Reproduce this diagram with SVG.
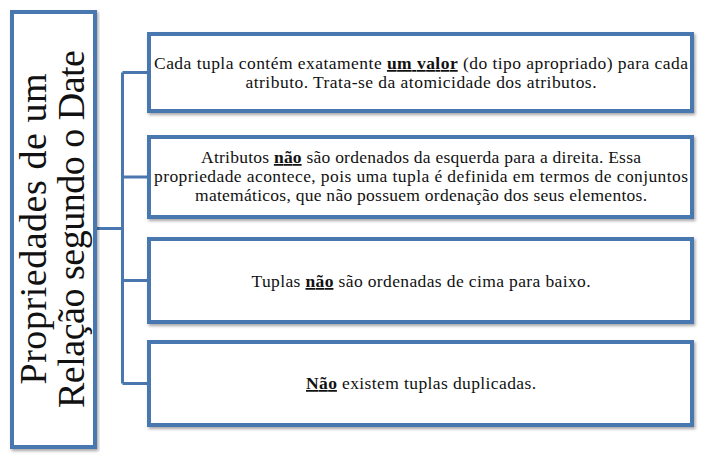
<svg xmlns="http://www.w3.org/2000/svg" width="704" height="461" viewBox="0 0 704 461">
<style>
.box{fill:#ffffff;stroke:#4A77B0;stroke-width:4;filter:url(#sh)}
.conn{fill:none;stroke:#4A77B0;stroke-width:3}
.t{font-family:"Liberation Serif","Times New Roman",serif;font-size:17.5px;fill:#111;text-anchor:middle}
.big{font-family:"Liberation Serif","Times New Roman",serif;font-size:38px;fill:#111;text-anchor:middle}
.u{font-weight:bold;text-decoration:underline}
</style>
<defs>
<filter id="sh" x="-5%" y="-5%" width="110%" height="115%">
<feDropShadow dx="1.5" dy="2" stdDeviation="1.5" flood-color="#000" flood-opacity="0.35"/>
</filter>
</defs>
<rect width="704" height="461" fill="#ffffff"/>
<g id="connectors">
<path class="conn" d="M97 228.5 H122.5 M122.5 72.5 V383.5 M122.5 72.5 H149 M122.5 177 H149 M122.5 280.5 H149 M122.5 383.5 H149"/>
</g>
<g id="root">
<rect class="box" x="12" y="12" width="83" height="435"/>
<g transform="translate(46,229) rotate(-90)">
<text class="big" x="0" y="0" textLength="311" lengthAdjust="spacing">Propriedades de um</text>
<text class="big" x="0" y="38" textLength="358" lengthAdjust="spacing">Relação segundo o Date</text>
</g>
</g>
<g id="n1">
<rect class="box" x="149" y="34" width="543" height="77"/>
<text class="t" x="421" y="69" textLength="534" lengthAdjust="spacing">Cada tupla contém exatamente <tspan class="u">um valor</tspan> (do tipo apropriado) para cada</text>
<text class="t" x="421" y="88" textLength="351" lengthAdjust="spacing">atributo. Trata-se da atomicidade dos atributos.</text>
</g>
<g id="n2">
<rect class="box" x="149" y="137" width="543" height="80"/>
<text class="t" x="421" y="163" textLength="440" lengthAdjust="spacing">Atributos <tspan class="u">não</tspan> são ordenados da esquerda para a direita. Essa</text>
<text class="t" x="421" y="182" textLength="534" lengthAdjust="spacing">propriedade acontece, pois uma tupla é definida em termos de conjuntos</text>
<text class="t" x="421" y="201" textLength="452" lengthAdjust="spacing">matemáticos, que não possuem ordenação dos seus elementos.</text>
</g>
<g id="n3">
<rect class="box" x="149" y="239" width="543" height="83"/>
<text class="t" x="421" y="287" textLength="339" lengthAdjust="spacing">Tuplas <tspan class="u">não</tspan> são ordenadas de cima para baixo.</text>
</g>
<g id="n4">
<rect class="box" x="149" y="342" width="543" height="83"/>
<text class="t" x="421" y="389" textLength="230" lengthAdjust="spacing"><tspan class="u">Não</tspan> existem tuplas duplicadas.</text>
</g>
</svg>
